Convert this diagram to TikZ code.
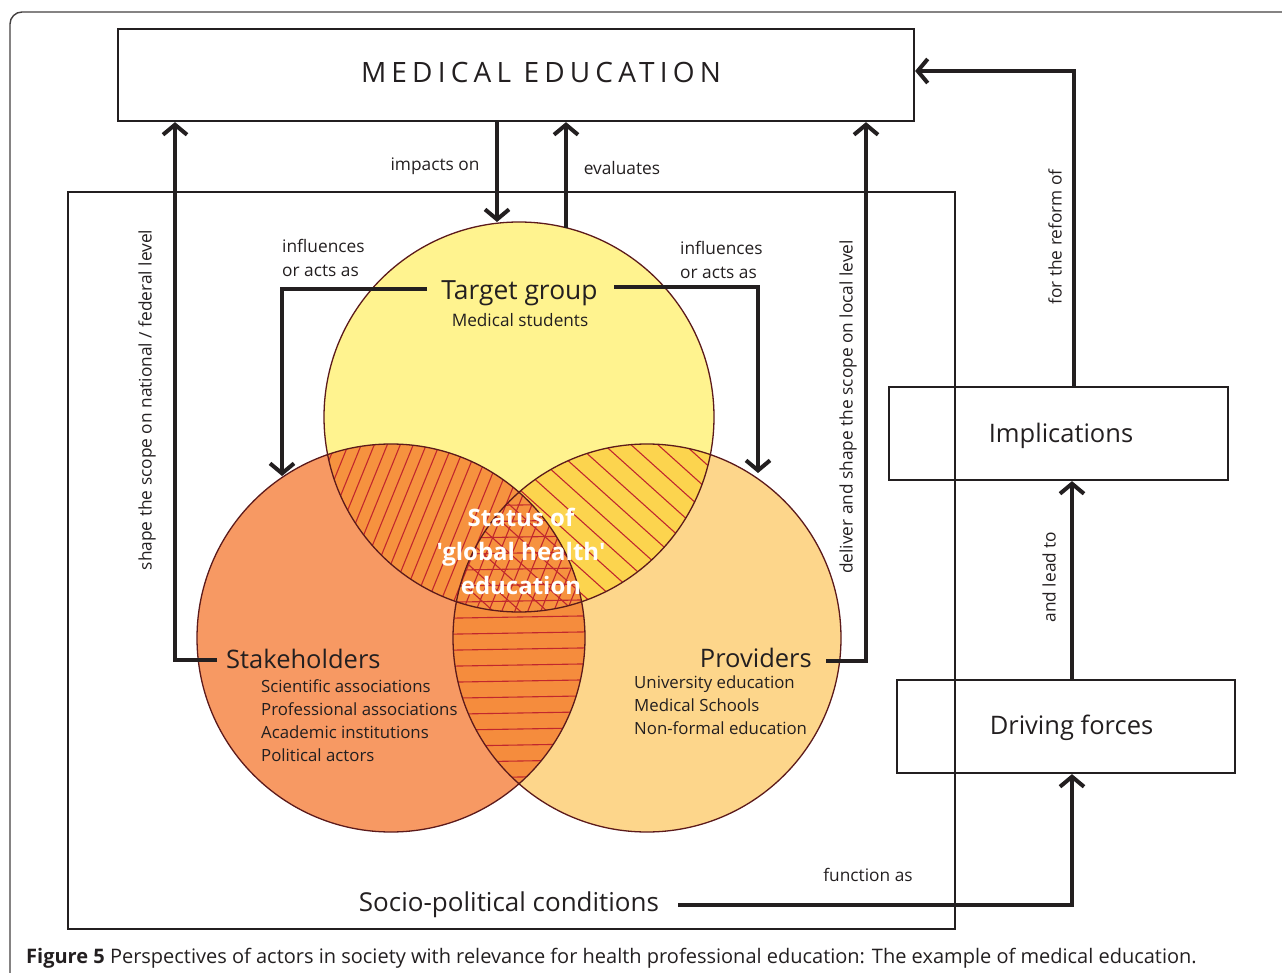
\documentclass[tikz,border=0pt]{standalone}
\usepackage{fontspec}
\setmainfont{Open Sans}
\usetikzlibrary{arrows.meta}
\definecolor{ink}{HTML}{231F20}
\definecolor{tgcol}{HTML}{FFF38F}
\definecolor{stcol}{HTML}{F79963}
\definecolor{prcol}{HTML}{FDD68B}
\definecolor{tscol}{HTML}{F6923F}
\definecolor{tpcol}{HTML}{FCD44E}
\definecolor{spcol}{HTML}{F58C3D}
\definecolor{hatchcol}{HTML}{C1272D}
\definecolor{rimcol}{HTML}{5C1A1B}
\tikzset{
  boxnode/.style={draw=ink, line width=2.2pt, inner sep=0pt},
  conn/.style={draw=ink, line width=4pt, line join=miter},
  arr/.style={-{Straight Barb[length=10pt,width=24pt,line width=4pt]}},
  hatchline/.style={draw=hatchcol, line width=1.1pt},
  rim/.style={draw=rimcol, line width=1.3pt},
  lab/.style={text=ink, inner sep=0pt, font=\fontsize{17.3}{20}\selectfont},
  biglab/.style={text=ink, inner sep=0pt, font=\fontsize{25.5}{30}\selectfont},
  listlab/.style={text=ink, inner sep=0pt, align=left, font=\fontsize{16.8}{23}\selectfont},
}
\begin{document}
\begin{tikzpicture}[x=1pt,y=-1pt]
\useasboundingbox (0,0) rectangle (1282,973);
\begin{scope}
\clip (0,0) rectangle (1282,973);
% outer frame
\draw[draw=ink!85, line width=1.4pt, rounded corners=12pt] (10,990) -- (10,12) -- (1300,12);

% circle centres
\coordinate (tgc) at (519,417);
\coordinate (stc) at (391,638);
\coordinate (prc) at (647,638);

% base fills
\fill[tgcol] (tgc) circle[radius=195pt];
\fill[stcol] (stc) circle[radius=194pt];
\fill[prcol] (prc) circle[radius=194pt];

% target & stakeholders
\begin{scope}
  \clip (tgc) circle[radius=195pt];
  \clip (stc) circle[radius=194pt];
  \fill[tscol] (0,0) rectangle (1282,973);
  \foreach \x in {170,183,...,660} \draw[hatchline] (\x,660) -- ++(90,-222);
\end{scope}
% target & providers
\begin{scope}
  \clip (tgc) circle[radius=195pt];
  \clip (prc) circle[radius=194pt];
  \fill[tpcol] (0,0) rectangle (1282,973);
  \foreach \y in {140,164.2,...,600} \draw[hatchline] (400,\y) -- ++(360,324);
\end{scope}
% stakeholders & providers
\begin{scope}
  \clip (stc) circle[radius=194pt];
  \clip (prc) circle[radius=194pt];
  \fill[spcol] (0,0) rectangle (1282,973);
  \begin{scope}
    \clip (tgc) circle[radius=195pt];
    \fill[tscol] (0,0) rectangle (1282,973);
    \foreach \x in {170,183,...,660} \draw[hatchline] (\x,660) -- ++(90,-222);
    \foreach \y in {140,164.2,...,600} \draw[hatchline] (400,\y) -- ++(360,324);
  \end{scope}
  \foreach \y in {489,505,...,790} \draw[hatchline] (430,\y+1.5) -- (610,\y-1.5);
\end{scope}

% rims
\draw[rim] (tgc) circle[radius=195pt];
\draw[rim] (stc) circle[radius=194pt];
\draw[rim] (prc) circle[radius=194pt];

% socio-political frame
\draw[draw=ink, line width=2.2pt] (68,192) rectangle (955,929);

% boxes
\node[boxnode, minimum width=796pt, minimum height=92pt] (ME) at (516,75) {};
\node[text=ink, anchor=base, inner sep=0pt, font=\fontsize{28}{30}\selectfont\addfontfeature{LetterSpace=18.5}] (metext) at (541,83) {MEDICAL EDUCATION};
\node[boxnode, minimum width=339pt, minimum height=93pt] (impl) at (1058.5,433.5) {};
\node[biglab, anchor=base] (impltext) at (1061,442) {Implications};
\node[boxnode, minimum width=338pt, minimum height=93pt] (drv) at (1066,726.5) {};
\node[biglab, anchor=base] (drvtext) at (1071.5,734) {Driving forces};

% circle texts
\node[biglab, anchor=base, font=\fontsize{26.4}{30}\selectfont] (tg) at (519.5,300) {Target group};
\node[lab, anchor=base, font=\fontsize{17.2}{20}\selectfont] (tgsub) at (520,327) {Medical students};
\node[biglab, anchor=base west] (stake) at (226,668) {Stakeholders};
\node[listlab, anchor=north west] (stakelist) at (261,679) {Scientific associations\\Professional associations\\Academic institutions\\Political actors};
\node[biglab, anchor=base east] (prov) at (812,667) {Providers};
\node[listlab, anchor=north west] (provlist) at (634,676) {University education\\Medical Schools\\Non-formal education};
\node[text=white, inner sep=0pt, align=center, font=\fontsize{24}{34}\selectfont\bfseries\addfontfeature{Ligatures=TeXOff}, anchor=north] (status) at (521,508) {Status of\\'global health'\\education};

% labels
\node[lab, anchor=base] (limp) at (435,171) {impacts on};
\node[lab, anchor=base] (leval) at (622,175) {evaluates};
\node[lab, anchor=base west] (linfl1) at (282,253) {influences};
\node[lab, anchor=base west] (linfl1b) at (282,277) {or acts as};
\node[lab, anchor=base west] (linfl2) at (680,255) {influences};
\node[lab, anchor=base west] (linfl2b) at (680,279) {or acts as};
\node[lab, rotate=90] (lnat) at (147,400) {shape the scope on national / federal level};
\node[lab, rotate=90] (lloc) at (848,407) {deliver and shape the scope on local level};
\node[lab, rotate=90] (lref) at (1055,237) {for the reform of};
\node[lab, rotate=90] (llead) at (1049,577) {and lead to};
\node[lab, anchor=base] (lfun) at (868,881) {function as};
\node[biglab, anchor=base, font=\fontsize{26}{30}\selectfont] (socio) at (509,911) {Socio-political conditions};

% connector end points
\coordinate (stkL) at (217,660);
\coordinate (prvR) at (826,661);
\coordinate (tgtop) at (497,222);
\coordinate (evstart) at (566,228);
\coordinate (tgL) at (427,289);
\coordinate (tgR) at (614,287);
\coordinate (stkTop) at (282,476);
\coordinate (prvTop) at (758,473);
\coordinate (socR) at (678,905);

% connectors
\draw[conn,arr] (stkL) -| ([xshift=-341pt]ME.south);
\draw[conn,arr] (prvR) -| ([xshift=350pt]ME.south);
\draw[conn,arr] ([xshift=-19pt]ME.south) -- (tgtop);
\draw[conn,arr] (evstart) -- ([xshift=50pt]ME.south);
\draw[conn,arr] (tgL) -| (stkTop);
\draw[conn,arr] (tgR) -| (prvTop);
\draw[conn,arr] ([xshift=15.5pt]impl.north) |- ([yshift=4pt]ME.east);
\draw[conn,arr] ([xshift=6pt]drv.north) -- ([xshift=6pt]drv.north |- impl.south);
\draw[conn,arr] (socR) -| ([xshift=6pt]drv.south);

% caption
\node[text=ink, anchor=base west, inner sep=0pt, font=\fontsize{20}{22}\selectfont] (caption) at (26,963) {\textbf{Figure 5} Perspectives of actors in society with relevance for health professional education: The example of medical education.};
\end{scope}
\end{tikzpicture}
\end{document}
